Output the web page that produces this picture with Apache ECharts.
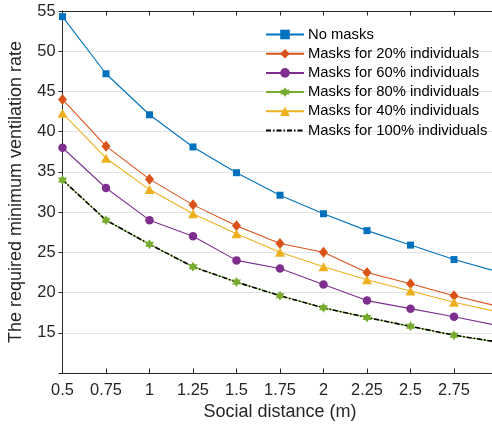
<!DOCTYPE html>
<html>
<head>
<meta charset="utf-8">
<script src="https://cdn.jsdelivr.net/npm/echarts@6/dist/echarts.min.js"></script>
<style>
  html, body { margin: 0; padding: 0; background: #fff; }
  #chart { width: 492px; height: 424px; }
</style>
</head>
<body>
<div id="chart"></div>
<script>
// Social distance (m)
const distances = [0.5, 0.75, 1, 1.25, 1.5, 1.75, 2, 2.25, 2.5, 2.75, 3];
// Required minimum ventilation rate per mask scenario
const noMasks   = [54.3, 47.2, 42.1, 38.1, 34.9, 32.1, 29.8, 27.7, 25.9, 24.1, 22.6];
const masks20   = [44.0, 38.2, 34.1, 30.9, 28.3, 26.1, 25.0, 22.5, 21.1, 19.6, 18.3];
const masks60   = [38.0, 33.0, 29.0, 27.0, 24.0, 23.0, 21.0, 19.0, 18.0, 17.0, 15.9];
const masks80   = [34.0, 29.0, 26.0, 23.2, 21.3, 19.6, 18.1, 16.9, 15.8, 14.7, 13.85];
const masks40   = [42.3, 36.7, 32.8, 29.8, 27.3, 25.0, 23.2, 21.6, 20.2, 18.8, 17.6];
const masks100  = [34.0, 29.0, 26.0, 23.2, 21.3, 19.6, 18.1, 16.9, 15.8, 14.7, 13.85];
const seriesNames = [
  'No masks',
  'Masks for 20% individuals',
  'Masks for 60% individuals',
  'Masks for 80% individuals',
  'Masks for 40% individuals',
  'Masks for 100% individuals'
];

const FONT = '"Liberation Sans", Arial, Helvetica, sans-serif';
const INK = '#262626';
const HEXAGRAM = 'path://M100 0L128.87 50L186.6 50L157.7 100L186.6 150L128.87 150L100 200L71.13 150L13.4 150L42.3 100L13.4 50L71.13 50Z';

// markers are drawn on every point except the trailing one at the axis edge
function toPoints(values) {
  return distances.map((x, i) =>
    i < distances.length - 1 ? [x, values[i]] : { value: [x, values[i]], symbol: 'none' });
}

function lineSeries(name, values, color, symbol, size, extra) {
  return Object.assign({
    name: name,
    type: 'line',
    data: toPoints(values),
    symbol: symbol,
    symbolSize: size,
    showAllSymbol: true,
    lineStyle: { color: color, width: 1.1 },
    itemStyle: { color: color },
    emphasis: { disabled: true },
    animation: false,
    clip: true
  }, extra || {});
}

// the plain dash-dot line has no marker, so its legend entry shows the line only
const legendData = seriesNames.map((n, i) => i === 5
  ? { name: n, itemStyle: { color: 'rgba(0,0,0,0)', borderColor: 'rgba(0,0,0,0)', borderWidth: 0 } }
  : { name: n });

const chart = echarts.init(document.getElementById('chart'));
chart.setOption({
  animation: false,
  textStyle: { fontFamily: FONT, color: INK },
  grid: { left: 62.5, right: -5.5, top: 11, bottom: 51, containLabel: false, outerBoundsMode: 'none' },
  xAxis: [{
    type: 'value', min: 0.5, max: 3, interval: 0.25,
    name: 'Social distance (m)', nameLocation: 'middle', nameGap: 30,
    nameTextStyle: { fontSize: 18, color: INK, fontFamily: FONT },
    axisLine: { show: true, onZero: false, lineStyle: { color: INK, width: 1 } },
    axisTick: { show: true, inside: true, length: 4.5, lineStyle: { color: INK } },
    axisLabel: { fontSize: 16.4, color: INK, fontFamily: FONT, margin: 9,
      formatter: v => (v > 2.9 ? '' : String(v)) },
    splitLine: { show: false }
  }, {
    type: 'value', min: 0.5, max: 3, interval: 0.25, position: 'top',
    axisLine: { show: true, onZero: false, lineStyle: { color: INK, width: 1 } },
    axisTick: { show: true, inside: true, length: 4.5, lineStyle: { color: INK } },
    axisLabel: { show: false },
    splitLine: { show: false }
  }],
  yAxis: {
    type: 'value', min: 10, max: 55, interval: 5,
    name: 'The required minimum ventilation rate', nameLocation: 'middle', nameGap: 37,
    nameTextStyle: { fontSize: 18, color: INK, fontFamily: FONT },
    axisLine: { show: true, onZero: false, lineStyle: { color: INK, width: 1 } },
    axisTick: { show: true, inside: false, length: 4, lineStyle: { color: INK } },
    axisLabel: { fontSize: 16.4, color: INK, fontFamily: FONT, margin: 7,
      formatter: v => (v === 10 ? '' : String(v)) },
    splitLine: { show: true, lineStyle: { color: '#e3e3e3', width: 1 } }
  },
  legend: {
    orient: 'vertical', left: 265, top: 27, padding: 0,
    itemWidth: 38, itemHeight: 12, itemGap: 4.2,
    textStyle: { fontSize: 14.8, color: '#000', fontFamily: FONT, padding: [0, 0, 0, -1] },
    data: legendData
  },
  series: [
    lineSeries(seriesNames[0], noMasks, '#0072BD', 'rect', 7),
    lineSeries(seriesNames[1], masks20, '#D95319', 'diamond', [9, 11]),
    lineSeries(seriesNames[2], masks60, '#7E2F8E', 'circle', 8.5),
    lineSeries(seriesNames[3], masks80, '#77AC30', HEXAGRAM, [9, 10]),
    lineSeries(seriesNames[4], masks40, '#EDB120', 'triangle', [10, 9]),
    lineSeries(seriesNames[5], masks100, '#000000', 'none', 0, {
      lineStyle: { color: '#000', width: 1.6, type: [5, 2, 1.5, 2] },
      z: 3
    })
  ]
});
</script>
</body>
</html>
